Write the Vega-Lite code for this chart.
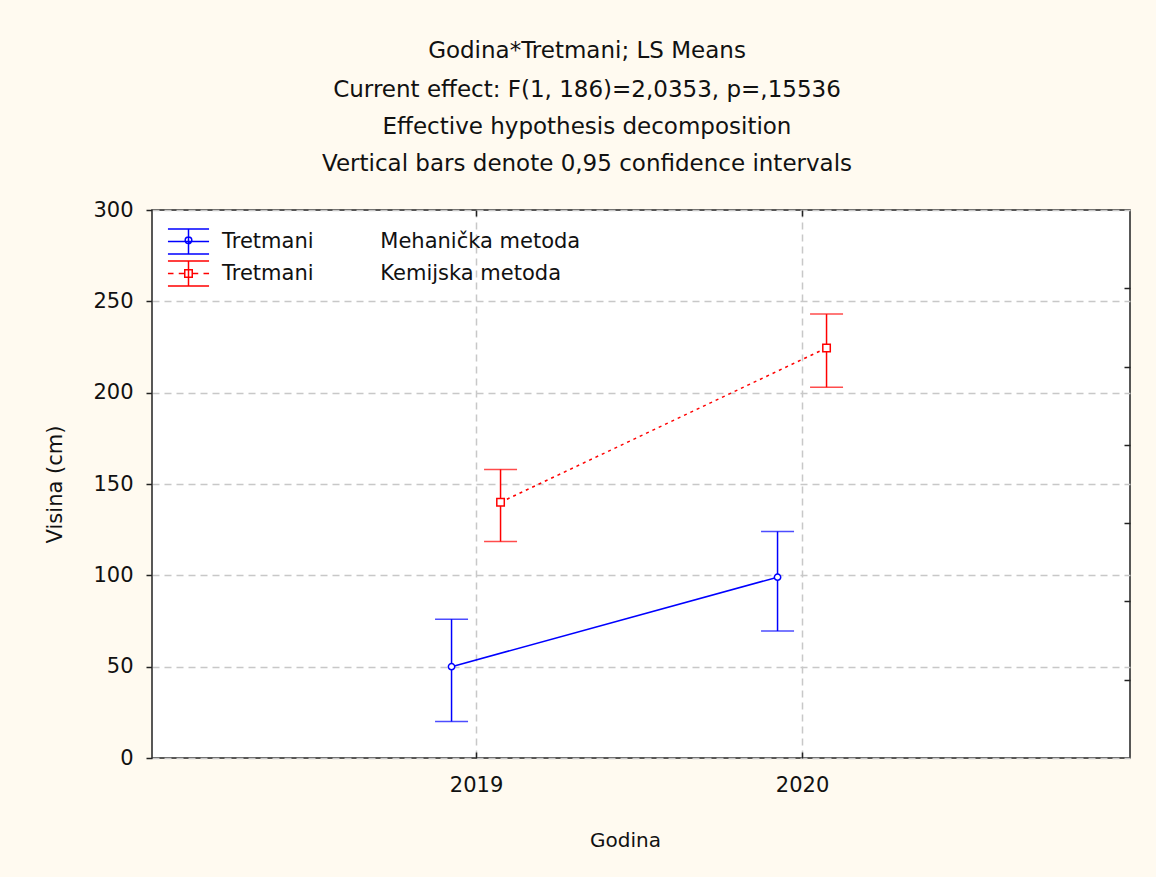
{
  "$schema": "https://vega.github.io/schema/vega-lite/v6.json",
  "width": 978,
  "height": 548,
  "autosize": "none",
  "padding": {"left": 152, "top": 210, "right": 26, "bottom": 119},
  "background": "#fffaf0",
  "config": {
    "view": {"fill": "#ffffff", "stroke": "#222222", "strokeWidth": 1.5},
    "font": "DejaVu Sans",
    "axis": {
      "labelFont": "DejaVu Sans", "titleFont": "DejaVu Sans",
      "labelColor": "#111111", "titleColor": "#111111",
      "titleFontWeight": "normal", "labelFontSize": 21, "titleFontSize": 21,
      "gridColor": "#c8c8c8", "gridDash": [7, 5], "gridWidth": 1.5,
      "tickColor": "#222222", "tickWidth": 1.5, "domain": false
    }
  },
  "title": {
    "text": "Godina*Tretmani; LS Means",
    "subtitle": ["Current effect: F(1, 186)=2,0353, p=,15536", "Effective hypothesis decomposition", "Vertical bars denote 0,95 confidence intervals"],
    "anchor": "middle",
    "dx": -54,
    "font": "DejaVu Sans", "subtitleFont": "DejaVu Sans",
    "fontSize": 23, "subtitleFontSize": 23,
    "fontWeight": "normal",
    "color": "#111111", "subtitleColor": "#111111",
    "subtitlePadding": 16,
    "subtitleLineHeight": 37,
    "offset": 23
  },
  "data": {
    "values": [
      {"godina": 2019, "tretman": "Mehanička metoda", "mean": 50, "lo": 20, "hi": 76},
      {"godina": 2020, "tretman": "Mehanička metoda", "mean": 99, "lo": 69.5, "hi": 124},
      {"godina": 2019, "tretman": "Kemijska metoda", "mean": 140, "lo": 118.5, "hi": 158},
      {"godina": 2020, "tretman": "Kemijska metoda", "mean": 224.5, "lo": 203, "hi": 243}
    ]
  },
  "resolve": {"axis": {"x": "independent", "y": "independent"}},
  "layer": [
    {
      "transform": [{"filter": "datum.tretman === 'Mehanička metoda'"}],
      "mark": {"type": "rule", "xOffset": -24.5, "color": "#0000ff", "strokeWidth": 1.5},
      "encoding": {
        "x": {"field": "godina", "type": "quantitative", "scale": {"domain": [2018.006, 2021.006], "nice": false, "zero": false},
          "axis": {"values": [2019, 2020], "format": "d", "tickSize": -6, "labelPadding": 22, "grid": true,
            "title": "Godina", "titleFontSize": 20, "titleX": 473, "titleY": 82, "titleBaseline": "middle", "titleAlign": "center"}},
        "y": {"field": "lo", "type": "quantitative", "scale": {"domain": [0, 300], "nice": false},
          "axis": {"values": [0, 50, 100, 150, 200, 250, 300], "tickSize": 6, "labelPadding": 13, "grid": true,
            "title": "Visina (cm)", "titleX": -97, "titleY": 274, "titleAngle": 270, "titleBaseline": "middle", "titleAlign": "center"}},
        "y2": {"field": "hi"}
      }
    },
    {
      "transform": [{"filter": "datum.tretman === 'Kemijska metoda'"}],
      "mark": {"type": "rule", "xOffset": 24.5, "color": "#ff0000", "strokeWidth": 1.5},
      "encoding": {
        "x": {"field": "godina", "type": "quantitative", "scale": {"domain": [2018.006, 2021.006], "nice": false, "zero": false},
          "axis": {"orient": "top", "values": [2019, 2020], "labels": false, "grid": false, "title": null, "tickSize": -6}},
        "y": {"field": "lo", "type": "quantitative", "scale": {"domain": [0, 300], "nice": false},
          "axis": {"orient": "right", "values": [42.86, 85.71, 128.57, 171.43, 214.29, 257.14], "labels": false, "grid": false, "title": null, "tickSize": -6}},
        "y2": {"field": "hi"}
      }
    },
    {
      "transform": [{"filter": "datum.tretman === 'Mehanička metoda'"}],
      "mark": {"type": "tick", "orient": "horizontal", "size": 33, "thickness": 1.5, "xOffset": -24.5, "color": "#0000ff"},
      "encoding": {
        "x": {"field": "godina", "type": "quantitative", "axis": null},
        "y": {"field": "lo", "type": "quantitative", "axis": null}
      }
    },
    {
      "transform": [{"filter": "datum.tretman === 'Mehanička metoda'"}],
      "mark": {"type": "tick", "orient": "horizontal", "size": 33, "thickness": 1.5, "xOffset": -24.5, "color": "#0000ff"},
      "encoding": {
        "x": {"field": "godina", "type": "quantitative", "axis": null},
        "y": {"field": "hi", "type": "quantitative", "axis": null}
      }
    },
    {
      "transform": [{"filter": "datum.tretman === 'Kemijska metoda'"}],
      "mark": {"type": "tick", "orient": "horizontal", "size": 33, "thickness": 1.5, "xOffset": 24.5, "color": "#ff0000"},
      "encoding": {
        "x": {"field": "godina", "type": "quantitative", "axis": null},
        "y": {"field": "lo", "type": "quantitative", "axis": null}
      }
    },
    {
      "transform": [{"filter": "datum.tretman === 'Kemijska metoda'"}],
      "mark": {"type": "tick", "orient": "horizontal", "size": 33, "thickness": 1.5, "xOffset": 24.5, "color": "#ff0000"},
      "encoding": {
        "x": {"field": "godina", "type": "quantitative", "axis": null},
        "y": {"field": "hi", "type": "quantitative", "axis": null}
      }
    },
    {
      "transform": [{"filter": "datum.tretman === 'Mehanička metoda'"}],
      "mark": {"type": "line", "xOffset": -24.5, "strokeWidth": 1.5},
      "encoding": {
        "x": {"field": "godina", "type": "quantitative", "axis": null},
        "y": {"field": "mean", "type": "quantitative", "axis": null},
        "color": {"field": "tretman", "type": "nominal",
          "scale": {"domain": ["Mehanička metoda", "Kemijska metoda"], "range": ["#0000ff", "#ff0000"]},
          "legend": {
            "orient": "none", "legendX": 20.5, "legendY": 15.5, "title": null, "padding": 0, "rowPadding": -5,
            "symbolSize": 900, "symbolStrokeWidth": 1.5, "symbolFillColor": "transparent",
            "labelFont": "DejaVu Sans", "labelFontSize": 21, "labelColor": "#111111", "labelOffset": 17.5, "labelLimit": 700,
            "labelExpr": "'Tretmani\u00a0\u00a0\u00a0\u00a0\u00a0\u00a0\u00a0\u00a0\u00a0\u00a0' + datum.label",
            "encode": {"symbols": {"update": {"shape": {"signal": "datum.value === 'Mehanička metoda' ? 'M-1.37,-0.83H1.37M-1.37,0.83H1.37M-1.37,0H1.37M0,-0.83V0.83M0.22,-0.08A0.22,0.22 0 1 1 -0.22,-0.08A0.22,0.22 0 1 1 0.22,-0.08' : 'M-1.37,-0.83H1.37M-1.37,0.83H1.37M-1.37,0H-1.0M-0.65,0H-0.3M0.3,0H0.65M1.0,0H1.37M0,-0.83V0.83M-0.25,-0.25H0.25V0.25H-0.25Z'"}}}}
          }
        }
      }
    },
    {
      "transform": [{"filter": "datum.tretman === 'Kemijska metoda'"}],
      "mark": {"type": "line", "xOffset": 24.5, "strokeWidth": 1.5, "color": "#ff0000", "strokeDash": [3, 4]},
      "encoding": {
        "x": {"field": "godina", "type": "quantitative", "axis": null},
        "y": {"field": "mean", "type": "quantitative", "axis": null}
      }
    },
    {
      "transform": [{"filter": "datum.tretman === 'Mehanička metoda'"}],
      "mark": {"type": "point", "shape": "circle", "size": 40, "filled": true, "fill": "#ffffff", "stroke": "#0000ff", "strokeWidth": 1.5, "xOffset": -24.5, "opacity": 1},
      "encoding": {
        "x": {"field": "godina", "type": "quantitative", "axis": null},
        "y": {"field": "mean", "type": "quantitative", "axis": null}
      }
    },
    {
      "transform": [{"filter": "datum.tretman === 'Kemijska metoda'"}],
      "mark": {"type": "point", "shape": "square", "size": 56, "filled": true, "fill": "#ffffff", "stroke": "#ff0000", "strokeWidth": 1.5, "xOffset": 24.5, "opacity": 1},
      "encoding": {
        "x": {"field": "godina", "type": "quantitative", "axis": null},
        "y": {"field": "mean", "type": "quantitative", "axis": null}
      }
    }
  ]
}
